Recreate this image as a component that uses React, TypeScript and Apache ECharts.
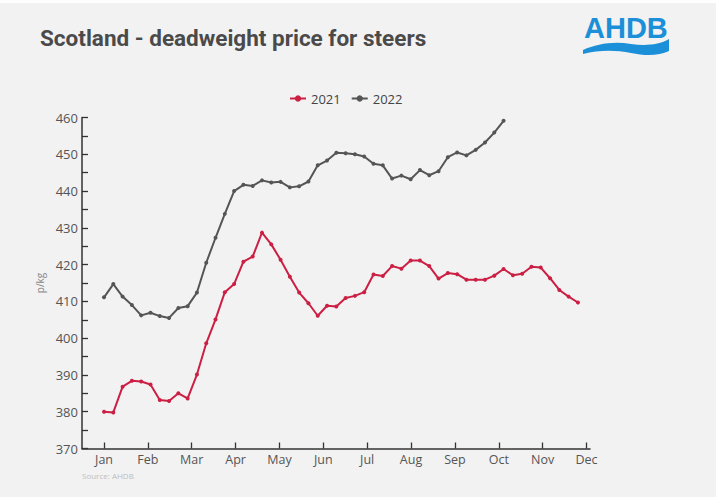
import React, { useEffect, useRef } from "react";
import * as echarts from "echarts";

const months = ["Jan", "Feb", "Mar", "Apr", "May", "Jun", "Jul", "Aug", "Sep", "Oct", "Nov", "Dec"];

const prices2021 = [
  380.0, 379.8, 386.8, 388.4, 388.2, 387.4, 383.2, 382.9, 385.0, 383.6,
  390.1, 398.6, 405.1, 412.5, 414.7, 420.8, 422.2, 428.7, 425.5, 421.3,
  416.7, 412.4, 409.5, 406.1, 408.8, 408.6, 410.9, 411.5, 412.5, 417.3,
  416.9, 419.6, 418.9, 421.1, 421.1, 419.6, 416.2, 417.7, 417.4, 415.9,
  415.9, 415.9, 417.0, 418.8, 417.1, 417.5, 419.4, 419.2, 416.3, 413.1,
  411.3, 409.7,
];

const prices2022 = [
  411.1, 414.7, 411.3, 409.0, 406.2, 406.9, 406.0, 405.5, 408.2, 408.7,
  412.4, 420.5, 427.3, 433.8, 440.0, 441.7, 441.4, 442.9, 442.3, 442.5,
  441.0, 441.3, 442.6, 447.0, 448.3, 450.4, 450.3, 450.0, 449.4, 447.4,
  447.0, 443.4, 444.2, 443.2, 445.7, 444.3, 445.4, 449.2, 450.5, 449.7,
  451.2, 453.2, 455.9, 459.1,
];

const yMin = 370;
const yMax = 460;
const yStep = 10;

// axis layout: weeks per month tick on the drawn axis
const MONTH_STEP = 4.72;
const FONT = "'Open Sans', 'Noto Sans', sans-serif";

const WAVE_PATH =
  "M0,11 C14,5 30,2 48,5 C62,7 76,6 86,0 L86,12 C76,17 62,17 48,14 C32,11 16,11 0,15 Z";

export default function App() {
  const ref = useRef<HTMLDivElement>(null);

  useEffect(() => {
    document.body.style.margin = "0";
    if (!ref.current) return;
    echarts.graphic.registerShape("ahdbWave", echarts.graphic.extendPath(WAVE_PATH, {}));
    const chart = echarts.init(ref.current, null, { renderer: "svg" });
    const monthTicks = months.map((_, i) => i * MONTH_STEP);
    const option: any = {
      animation: false,
      backgroundColor: "#ffffff",
      graphic: [
        { type: "rect", z: -10, shape: { x: 0, y: 3, width: 716, height: 494 }, style: { fill: "#f2f2f2" } },
        {
          type: "text",
          left: 40,
          top: 26,
          style: {
            text: "Scotland - deadweight price for steers",
            font: "bold 22.5px 'Roboto', sans-serif",
            fill: "#4a4a4a",
          },
        },
        {
          type: "text",
          left: 584,
          top: 13,
          style: {
            text: "AHDB",
            font: "bold 29px 'Liberation Sans', 'Arial', sans-serif",
            fill: "#1b8fd8",
          },
        },
        {
          type: "ahdbWave",
          x: 583,
          y: 39,
          style: { fill: "#1b8fd8" },
        },
        {
          type: "text",
          left: 82,
          top: 471,
          style: { text: "Source: AHDB", font: "8px " + FONT, fill: "#bdbdbd" },
        },
      ],
      legend: {
        top: 87,
        left: 284,
        itemWidth: 16,
        itemHeight: 8,
        itemGap: 10,
        textStyle: { fontSize: 13, color: "#444", fontFamily: FONT },
        data: ["2021", "2022"],
      },
      grid: { left: 82, right: 136, top: 117.5, bottom: 48.5, containLabel: false },
      xAxis: {
        type: "value",
        min: -2.37,
        max: 52.3,
        splitLine: { show: false },
        axisLine: { show: true, onZero: false, lineStyle: { color: "#333", width: 1.5 } },
        axisTick: { show: true, inside: true, length: 6, customValues: monthTicks, lineStyle: { color: "#333", width: 1.3 } },
        axisLabel: {
          customValues: monthTicks,
          formatter: (v: number) => months[Math.round(v / MONTH_STEP)] ?? "",
          color: "#555",
          fontSize: 12.5,
          fontFamily: FONT,
          margin: 4,
        },
      },
      yAxis: {
        type: "value",
        min: yMin,
        max: yMax,
        interval: yStep,
        name: "p/kg",
        nameLocation: "middle",
        nameGap: 34,
        nameRotate: 90,
        nameTextStyle: { fontSize: 10, color: "#888", fontFamily: FONT },
        splitLine: { show: false },
        axisLine: { show: true, onZero: false, lineStyle: { color: "#333", width: 1.5 } },
        axisTick: { show: true, inside: true, length: 6, lineStyle: { color: "#333", width: 1.3 } },
        minorTick: { show: true, splitNumber: 2, length: 6, lineStyle: { color: "#333", width: 1.3 } },
        axisLabel: { color: "#555", fontSize: 13, fontFamily: FONT, margin: 4 },
      },
      series: [
        {
          name: "2021",
          type: "line",
          data: prices2021.map((v, i) => [i, v]),
          symbol: "circle",
          symbolSize: 4,
          lineStyle: { color: "#cc1f44", width: 2 },
          itemStyle: { color: "#cc1f44" },
        },
        {
          name: "2022",
          type: "line",
          data: prices2022.map((v, i) => [i, v]),
          symbol: "circle",
          symbolSize: 4,
          lineStyle: { color: "#555555", width: 2 },
          itemStyle: { color: "#555555" },
        },
      ],
    };
    chart.setOption(option);
    return () => chart.dispose();
  }, []);

  return <div ref={ref} style={{ width: 726, height: 497 }} />;
}
